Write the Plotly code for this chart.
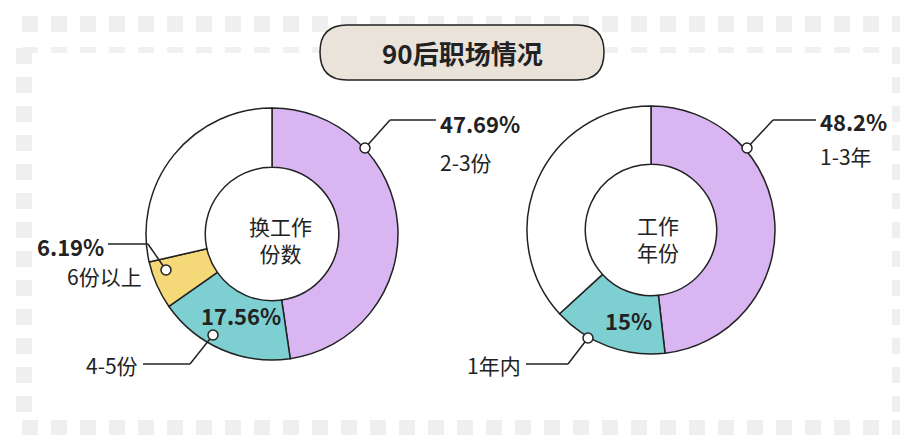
import plotly.graph_objects as go

left_labels = ["2-3份", "4-5份", "6份以上", "其他"]
left_values = [47.69, 17.56, 6.19, 28.56]
right_labels = ["1-3年", "1年内", "其他"]
right_values = [48.2, 15, 36.8]
purple, teal, yellow = "#d9b5f2", "#7dcfd1", "#f5d978"

W, H = 908, 435
font = "Noto Sans CJK SC"

fig = go.Figure()
fig.add_trace(go.Pie(labels=left_labels, values=left_values, sort=False, direction="clockwise",
                     hole=0.53, textinfo="none", hoverinfo="label+percent",
                     marker=dict(colors=[purple, teal, yellow, "white"], line=dict(color="#222", width=1.5)),
                     domain=dict(x=[138 / W, 390 / W], y=[1 - 352 / H, 1 - 100 / H])))
fig.add_trace(go.Pie(labels=right_labels, values=right_values, sort=False, direction="clockwise",
                     hole=0.53, textinfo="none", hoverinfo="label+percent",
                     marker=dict(colors=[purple, teal, "white"], line=dict(color="#222", width=1.5)),
                     domain=dict(x=[519 / W, 767 / W], y=[1 - 346 / H, 1 - 98 / H])))

shapes = []
# decorative border squares
for x in range(14, W, 29):
    for y in (8, 412):
        shapes.append(dict(type="rect", x0=x, x1=x + 16, y0=y, y1=y + 16, fillcolor="#efefef", line_width=0, layer="below"))
    shapes.append(dict(type="rect", x0=x, x1=x + 16, y0=39, y1=45, fillcolor="#f1f1f1", line_width=0, layer="below"))
for y in range(40, 410, 29):
    for x in (8, 884):
        shapes.append(dict(type="rect", x0=x, x1=x + 16, y0=y, y1=y + 16, fillcolor="#efefef", line_width=0, layer="below"))

# title box
x0, x1, y0, y1, r = 312, 596, 17, 72, 27
shapes.append(dict(type="path",
                   path=f"M{x0+r},{y0} L{x1-r},{y0} Q{x1},{y0} {x1},{y0+r} Q{x1},{y1} {x1-r},{y1} "
                        f"L{x0+r},{y1} Q{x0},{y1} {x0},{y0+r} Q{x0},{y0} {x0+r},{y0} Z",
                   fillcolor="#e9e3da", line=dict(color="#222", width=1.5)))

# callout lines
lines = [
    [(357, 140), (382, 112), (428, 112)],
    [(158, 262), (140, 236), (100, 236)],
    [(205, 327), (182, 356), (135, 356)],
    [(739, 140), (765, 112), (808, 112)],
    [(580, 330), (560, 356), (518, 356)],
]
for pts in lines:
    for (ax, ay), (bx, by) in zip(pts, pts[1:]):
        shapes.append(dict(type="line", x0=ax, y0=ay, x1=bx, y1=by, line=dict(color="#222", width=1.5)))
    cx, cy = pts[0]
    shapes.append(dict(type="circle", x0=cx - 5, x1=cx + 5, y0=cy - 5, y1=cy + 5,
                       fillcolor="white", line=dict(color="#222", width=1.5)))

ann = []
def txt(x, y, t, size=21, bold=False, xanchor="center"):
    ann.append(dict(x=x, y=y, xref="x", yref="y", text=f"<b>{t}</b>" if bold else t, showarrow=False,
                    xanchor=xanchor, font=dict(family=font, size=size, color="#222")))

txt(454, 44, "90后职场情况", 26, True)
txt(272, 231, "换工作<br>份数", 21)
txt(650, 230, "工作<br>年份", 21)
txt(430, 115, "47.69%", 22, True, "left")
txt(430, 154, "2-3份", 21, False, "left")
txt(98, 238, "6.19%", 22, True, "right")
txt(136, 268, "6份以上", 21, False, "right")
txt(233, 307, "17.56%", 22, True)
txt(132, 357, "4-5份", 21, False, "right")
txt(810, 113, "48.2%", 22, True, "left")
txt(810, 148, "1-3年", 21, False, "left")
txt(620, 312, "15%", 22, True)
txt(515, 357, "1年内", 21, False, "right")

fig.update_layout(
    width=W, height=H, margin=dict(l=0, r=0, t=0, b=0), showlegend=False,
    paper_bgcolor="white", plot_bgcolor="rgba(0,0,0,0)",
    xaxis=dict(range=[0, W], visible=False, fixedrange=True),
    yaxis=dict(range=[H, 0], visible=False, fixedrange=True),
    shapes=shapes, annotations=ann,
)
fig.write_html("out.html")
